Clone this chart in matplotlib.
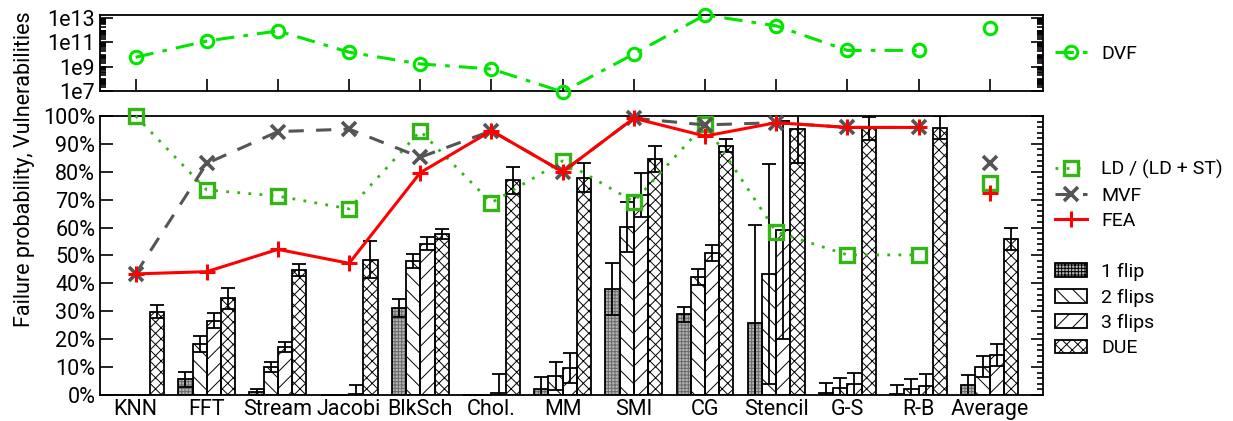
import numpy as np
import matplotlib
matplotlib.use("Agg")
import matplotlib.pyplot as plt
from matplotlib.ticker import FixedLocator, MultipleLocator, LogLocator, NullFormatter, PercentFormatter
from matplotlib.lines import Line2D
from matplotlib.patches import Patch

benchmarks = ["KNN", "FFT", "Stream", "Jacobi", "BlkSch", "Chol.", "MM",
              "SMI", "CG", "Stencil", "G-S", "R-B", "Average"]

# bar series (percent) and their error bars
flip1 = [0, 5.7, 1.0, 0, 31.1, 0, 2.2, 37.9, 28.9, 25.9, 0.6, 0.4, 3.6]
flip1_err = [0, 2.7, 1.3, 0, 3.2, 0, 4.4, 9.4, 2.6, 35, 3.6, 3.2, 3.6]
flip2 = [0, 18.2, 10.2, 0, 48.0, 0, 6.8, 60.3, 42.2, 43.4, 2.4, 2.2, 10.2]
flip2_err = [0, 2.8, 1.8, 0, 2.6, 0, 5.1, 9.0, 2.8, 39.3, 3.6, 3.5, 3.9]
flip3 = [0, 26.6, 17.3, 0.5, 54.2, 0.8, 9.6, 71.7, 50.8, 59.1, 3.9, 3.3, 14.3]
flip3_err = [0, 2.7, 1.8, 3.0, 2.3, 6.7, 5.4, 7.8, 2.9, 39.0, 3.9, 4.2, 4.0]
due = [29.9, 34.6, 44.8, 48.5, 57.6, 76.9, 77.9, 84.6, 89.4, 95.3, 95.6, 95.8, 55.9]
due_err = [2.2, 3.9, 2.0, 6.6, 1.8, 4.7, 5.1, 4.7, 2.3, 12.3, 4.2, 4.2, 3.8]

# line series (percent), last value is the average
ld_ratio = [100, 73.5, 71.3, 66.7, 94.6, 68.9, 83.9, 69.3, 97.1, 58.5, 50.2, 50.2, 75.9]
mvf = [43.4, 83.0, 94.4, 95.3, 85.2, 94.7, 80.0, 99.2, 96.8, 97.6, 95.9, 95.9, 83.0]
fea = [43.4, 44.2, 52.2, 47.2, 79.7, 94.7, 80.0, 99.2, 92.8, 97.6, 95.9, 95.9, 72.3]

# DVF (log scale), last value is the average
dvf = [6e9, 1.3e11, 8.8e11, 1.56e10, 1.7e9, 6.5e8, 8.5e6, 1.1e10, 1.8e13,
       2.3e12, 2.2e10, 2.2e10, 1.6e12]

FS = 15.5
LEG_FS = 14


def style_axes(ax):
    for s in ax.spines.values():
        s.set_linewidth(1.3)
    ax.tick_params(which="both", direction="in", left=True, right=True,
                   top=False, bottom=False, width=1.2, labelsize=FS)
    ax.tick_params(which="major", length=9)
    ax.tick_params(which="minor", length=4.5)


def main():
    plt.rcParams["font.family"] = ["Roboto", "DejaVu Sans"]
    plt.rcParams["hatch.linewidth"] = 0.7

    fig = plt.figure(figsize=(12.33, 4.21), dpi=100)
    ax_top = fig.add_axes([0.0811, 0.7838, 0.7649, 0.1806])
    ax = fig.add_axes([0.0811, 0.0618, 0.7649, 0.6627])

    x = np.arange(len(benchmarks))
    n = len(benchmarks) - 1

    # top panel: DVF
    dvf_kw = dict(color="#00e600", marker="o", markersize=9, markerfacecolor="none",
                  markeredgewidth=2.2, clip_on=False, zorder=3)
    ax_top.plot(x[:n], dvf[:n], linestyle=(0, (6, 3, 1.5, 3)), linewidth=2.2, **dvf_kw)
    ax_top.plot(x[n:], dvf[n:], linestyle="none", **dvf_kw)
    ax_top.set_yscale("log")
    ax_top.set_ylim(1e7, 1.8e13)
    ax_top.set_xlim(-0.5, 12.75)
    ax_top.yaxis.set_major_locator(FixedLocator([1e7, 1e9, 1e11, 1e13]))
    ax_top.set_yticklabels(["1e7", "1e9", "1e11", "1e13"])
    ax_top.yaxis.set_minor_locator(LogLocator(base=10, subs=np.arange(2, 10), numticks=20))
    ax_top.yaxis.set_minor_formatter(NullFormatter())
    style_axes(ax_top)
    ax_top.set_xticks(x)
    ax_top.tick_params(axis="x", which="major", bottom=True, length=9, labelbottom=False)

    # bottom panel: bars
    w = 0.2
    bar_specs = [
        (flip1, flip1_err, -0.3, "1 flip", "#b4b4b4", "#6a6a6a", "+++++"),
        (flip2, flip2_err, -0.1, "2 flips", "white", "black", "\\\\"),
        (flip3, flip3_err, 0.1, "3 flips", "white", "black", "//"),
        (due, due_err, 0.3, "DUE", "white", "black", "xxx"),
    ]
    bar_handles = []
    for vals, errs, off, label, fc, hc, hatch in bar_specs:
        ax.bar(x + off, vals, w, color=fc, edgecolor=hc, hatch=hatch,
               linewidth=0, zorder=2)
        ax.bar(x + off, vals, w, fill=False, edgecolor="black",
               linewidth=1.3, zorder=2.2)
        ax.errorbar(x + off, vals, yerr=errs, fmt="none", ecolor="black",
                    elinewidth=1.3, capsize=5, capthick=1.3, zorder=2.5)
        bar_handles.append(Patch(facecolor=fc, edgecolor="black", hatch=hatch,
                                 linewidth=1.3, label=label))

    # bottom panel: lines
    line_specs = [
        (ld_ratio, "LD / (LD + ST)", dict(color="#33b516", linestyle=(0, (1, 3)), linewidth=2,
                                         marker="s", markersize=10, markerfacecolor="none",
                                         markeredgewidth=2.4)),
        (mvf, "MVF", dict(color="#555555", linestyle=(0, (5, 4)), linewidth=2.2,
                          marker="x", markersize=10, markeredgewidth=2.6)),
        (fea, "FEA", dict(color="#ff0000", linestyle="-", linewidth=2.2,
                          marker="+", markersize=12, markeredgewidth=2.2)),
    ]
    line_handles = []
    for vals, label, kw in line_specs:
        ax.plot(x[:n], vals[:n], zorder=3, clip_on=False, **kw)
        pt_kw = dict(kw)
        pt_kw["linestyle"] = "none"
        ax.plot(x[n:], vals[n:], zorder=3, clip_on=False, **pt_kw)
        line_handles.append(Line2D([], [], label=label, **kw))

    ax.set_xlim(-0.5, 12.75)
    ax.set_ylim(0, 100)
    ax.set_xticks(x)
    ax.set_xticklabels(benchmarks, fontsize=FS)
    ax.yaxis.set_major_locator(MultipleLocator(10))
    ax.yaxis.set_minor_locator(MultipleLocator(2))
    ax.yaxis.set_major_formatter(PercentFormatter(decimals=0))
    style_axes(ax)
    ax.tick_params(which="minor", left=False)
    ax.tick_params(axis="x", bottom=False, pad=3)

    fig.text(0.02, 1 - 169 / 421, "Failure probability, Vulnerabilities", rotation=90,
             ha="center", va="center", fontsize=FS)

    dvf_handle = Line2D([], [], linestyle=(0, (6, 3, 1.5, 3)), linewidth=2.2, label="DVF",
                        **{k: v for k, v in dvf_kw.items() if k not in ("clip_on", "zorder")})
    leg_kw = dict(frameon=False, fontsize=LEG_FS, handlelength=1.6, handletextpad=0.75,
                  labelspacing=0.38, borderpad=0, borderaxespad=0)
    fig.legend(handles=[dvf_handle], loc="center left",
               bbox_to_anchor=(0.856, 1 - 54 / 421), **leg_kw)
    fig.legend(handles=line_handles, loc="upper left",
               bbox_to_anchor=(0.856, 1 - 160 / 421), **leg_kw)
    fig.legend(handles=bar_handles, loc="upper left",
               bbox_to_anchor=(0.856, 1 - 263 / 421), **leg_kw)

    fig.savefig("out.png", dpi=100)


if __name__ == "__main__":
    main()
